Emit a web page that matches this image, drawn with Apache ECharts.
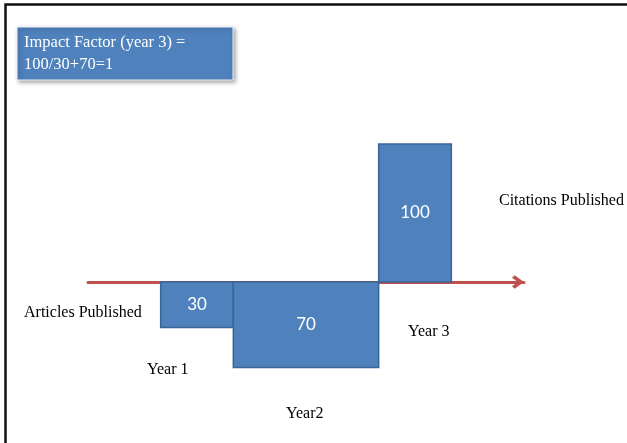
<!DOCTYPE html>
<html>
<head>
<meta charset="utf-8">
<script src="https://cdn.jsdelivr.net/npm/echarts@6/dist/echarts.min.js"></script>
<style>
  html, body { margin: 0; padding: 0; background: #ffffff; }
  #chart { width: 627px; height: 443px; }
</style>
</head>
<body>
<div id="chart"></div>
<script>
// ---- data ----
const categories = ['Year 1', 'Year2', 'Year 3'];
const barLabels = [30, 70, 100];          // numbers printed in the boxes
const barStart = [0, 1, 3];               // span of each box along the time line (year units)
const barEnd = [1, 3, 4];
const barExtent = [-33, -62, 100];        // drawn depth/height of each box (100 = citations box)
const sideLabels = ['Articles Published', 'Citations Published'];
const titleLines = ['Impact Factor (year 3) =', '100/30+70=1'];

const serif = '"Liberation Serif", "Times New Roman", serif';
const sans = 'Lato, "Open Sans", sans-serif';

const boxData = barLabels.map((v, i) => [barStart[i], barEnd[i], barExtent[i], v]);

const chart = echarts.init(document.getElementById('chart'), null, { renderer: 'canvas' });

const option = {
  backgroundColor: '#ffffff',
  animation: false,
  grid: { left: 88, right: 103, top: 144, bottom: 23 },
  xAxis: {
    type: 'value',
    min: -1,
    max: 5,
    axisLine: {
      show: true,
      onZero: true,
      lineStyle: { color: '#c0504d', width: 3 },
      symbol: ['none', 'path://M5,0 L10,7 L8.2,9 L5,4.6 L1.8,9 L0,7 Z'],
      symbolSize: [18, 12],
      symbolOffset: [0, -6]
    },
    axisTick: { show: false },
    axisLabel: { show: false },
    splitLine: { show: false }
  },
  yAxis: {
    type: 'value',
    min: -100,
    max: 100,
    show: false,
    splitLine: { show: false }
  },
  series: [{
    type: 'custom',
    z: 3,
    data: boxData,
    encode: { x: [0, 1], y: 2 },
    renderItem: function (params, api) {
      const p0 = api.coord([api.value(0), 0]);
      const p1 = api.coord([api.value(1), api.value(2)]);
      const x = Math.min(p0[0], p1[0]);
      const y = Math.min(p0[1], p1[1]);
      const w = Math.abs(p1[0] - p0[0]);
      const h = Math.abs(p1[1] - p0[1]);
      return {
        type: 'rect',
        shape: { x: x, y: y, width: w, height: h },
        style: { fill: '#4f81bd', stroke: '#3a6595', lineWidth: 1.5 },
        textContent: {
          style: {
            text: String(api.value(3)),
            fill: '#ffffff',
            font: '17px ' + sans
          }
        },
        textConfig: { position: 'inside' }
      };
    }
  }],
  graphic: [
    // frame
    {
      type: 'polyline',
      shape: { points: [[5.5, 443], [5.5, 4.5], [627, 4.5]] },
      style: { stroke: '#111111', lineWidth: 2.5, fill: null },
      z: 10
    },
    // title box
    {
      type: 'rect',
      shape: { x: 17, y: 27, width: 216, height: 53 },
      style: {
        fill: '#4f81bd',
        stroke: '#eef2f8',
        lineWidth: 1,
        shadowBlur: 4,
        shadowOffsetX: 2,
        shadowOffsetY: 2,
        shadowColor: 'rgba(0,0,0,0.35)'
      },
      z: 5
    },
    {
      type: 'text',
      x: 24, y: 43,
      style: { text: titleLines[0], fill: '#ffffff', font: '16.5px ' + serif, verticalAlign: 'middle' },
      z: 6
    },
    {
      type: 'text',
      x: 24, y: 65,
      style: { text: titleLines[1], fill: '#ffffff', font: '16.5px ' + serif, verticalAlign: 'middle' },
      z: 6
    },
    // side labels
    {
      type: 'text', x: 24, y: 313,
      style: { text: sideLabels[0], fill: '#000000', font: '16px ' + serif, verticalAlign: 'middle' }
    },
    {
      type: 'text', x: 499, y: 201,
      style: { text: sideLabels[1], fill: '#000000', font: '16px ' + serif, verticalAlign: 'middle' }
    },
    // year labels
    {
      type: 'text', x: 147, y: 370,
      style: { text: categories[0], fill: '#000000', font: '16px ' + serif, verticalAlign: 'middle' }
    },
    {
      type: 'text', x: 286, y: 414,
      style: { text: categories[1], fill: '#000000', font: '16px ' + serif, verticalAlign: 'middle' }
    },
    {
      type: 'text', x: 408, y: 332,
      style: { text: categories[2], fill: '#000000', font: '16px ' + serif, verticalAlign: 'middle' }
    }
  ]
};

chart.setOption(option);
</script>
</body>
</html>
